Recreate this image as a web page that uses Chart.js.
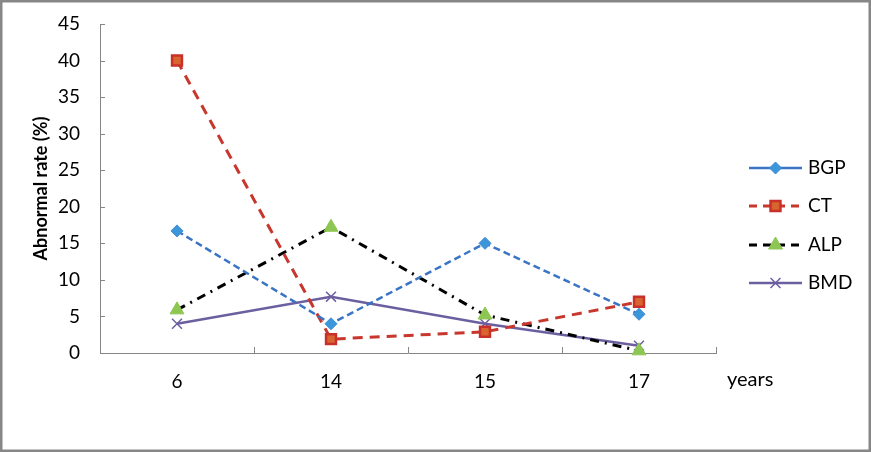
<!DOCTYPE html>
<html>
<head>
<meta charset="utf-8">
<script src="https://cdn.jsdelivr.net/npm/chart.js@4.4.1/dist/chart.umd.min.js"></script>
<style>
  html, body { margin: 0; padding: 0; background: #fff; }
  #wrap { width: 871px; height: 452px; position: relative; }
</style>
</head>
<body>
<div id="wrap"><canvas id="c" width="871" height="452"></canvas></div>
<script>
const categories = ['6', '14', '15', '17'];
const bgpValues = [16.7, 4.0, 15.0, 5.3];
const ctValues = [40.0, 1.9, 2.9, 7.0];
const alpValues = [5.9, 17.2, 5.2, 0.3];
const bmdValues = [4.0, 7.7, 4.0, 1.0];
const seriesNames = ['BGP', 'CT', 'ALP', 'BMD'];
const yTicks = [0, 5, 10, 15, 20, 25, 30, 35, 40, 45];

const FONT = 'Lato, "Liberation Sans", sans-serif';
const AXIS_COLOR = '#868686';
const legendDash = [[], [8, 6], [8, 6], []];

const datasets = [
  { label: seriesNames[0], data: bgpValues, borderColor: '#3A74C4', borderWidth: 2.5, borderDash: [7, 4],
    pointStyle: 'rectRot', pointRadius: 6, pointBackgroundColor: '#3C97DA', pointBorderColor: '#3C8AD4', pointBorderWidth: 1 },
  { label: seriesNames[1], data: ctValues, borderColor: '#C8372D', borderWidth: 3, borderDash: [10, 7],
    pointStyle: 'rect', pointRadius: 7, pointBackgroundColor: '#D8652F', pointBorderColor: '#C9302A', pointBorderWidth: 2.5 },
  { label: seriesNames[2], data: alpValues, borderColor: '#000000', borderWidth: 3, borderDash: [9, 6, 2, 6],
    pointStyle: 'triangle', pointRadius: 8, pointBackgroundColor: '#8DC652', pointBorderColor: '#8DC652', pointBorderWidth: 1 },
  { label: seriesNames[3], data: bmdValues, borderColor: '#6C5FA0', borderWidth: 2.5, borderDash: [],
    pointStyle: 'crossRot', pointRadius: 7, pointBackgroundColor: '#6C5FA0', pointBorderColor: '#6C5FA0', pointBorderWidth: 1.5 }
];
datasets.forEach(d => { d.fill = false; d.tension = 0; d.clip = false; });

const extras = {
  id: 'extras',
  afterDraw(chart) {
    const ctx = chart.ctx;
    const xs = chart.scales.x, ys = chart.scales.y;
    ctx.save();
    ctx.strokeStyle = AXIS_COLOR;
    ctx.lineWidth = 1;
    yTicks.forEach(v => {
      const py = Math.round(ys.getPixelForValue(v)) + 0.5;
      ctx.beginPath(); ctx.moveTo(ys.right, py); ctx.lineTo(ys.right + 5, py); ctx.stroke();
    });
    for (let i = 0; i <= categories.length; i++) {
      let px;
      if (i === 0) px = xs.left;
      else if (i === categories.length) px = xs.right;
      else px = (xs.getPixelForValue(i - 1) + xs.getPixelForValue(i)) / 2;
      px = Math.round(px) + 0.5;
      ctx.beginPath(); ctx.moveTo(px, xs.top); ctx.lineTo(px, xs.top - 6); ctx.stroke();
    }
    ctx.fillStyle = '#000';
    ctx.font = '20px ' + FONT;
    ctx.textAlign = 'left';
    ctx.textBaseline = 'middle';
    ctx.fillText('years', 727, 380);
    const rowY = [168, 206, 245, 283];
    chart.data.datasets.forEach((d, i) => {
      const y = rowY[i];
      ctx.save();
      ctx.strokeStyle = d.borderColor;
      ctx.lineWidth = d.borderWidth;
      ctx.setLineDash(legendDash[i]);
      ctx.beginPath(); ctx.moveTo(749, y); ctx.lineTo(802, y); ctx.stroke();
      ctx.setLineDash([]);
      ctx.fillStyle = d.pointBackgroundColor;
      ctx.strokeStyle = d.pointBorderColor;
      ctx.lineWidth = d.pointBorderWidth;
      Chart.helpers.drawPoint(ctx, { pointStyle: d.pointStyle, radius: d.pointRadius, rotation: 0, borderWidth: d.pointBorderWidth }, 775.5, y);
      ctx.restore();
      ctx.fillStyle = '#000';
      ctx.font = '19px ' + FONT;
      ctx.textAlign = 'left';
      ctx.textBaseline = 'middle';
      ctx.fillText(d.label, 808, y);
    });
    ctx.strokeStyle = '#878787';
    ctx.lineWidth = 2.5;
    ctx.strokeRect(1.25, 1.25, 868.5, 449.5);
    ctx.restore();
  }
};

new Chart(document.getElementById('c'), {
  type: 'line',
  data: { labels: categories, datasets: datasets },
  options: {
    responsive: false,
    animation: false,
    devicePixelRatio: 1,
    layout: { padding: { left: 0, right: 155, top: 24, bottom: 0 } },
    plugins: { legend: { display: false }, tooltip: { enabled: false } },
    scales: {
      x: {
        type: 'category',
        offset: true,
        grid: { display: false, drawTicks: false, offset: true },
        border: { display: true, color: AXIS_COLOR, width: 1 },
        ticks: { color: '#000', font: { family: FONT, size: 19 }, padding: 17, maxRotation: 0 },
        afterFit(scale) { scale.height = 99; scale.paddingLeft = 0; scale.paddingRight = 0; }
      },
      y: {
        min: 0, max: 45,
        afterBuildTicks(scale) { scale.ticks = yTicks.map(v => ({ value: v })); },
        grid: { display: false, drawTicks: false },
        border: { display: true, color: AXIS_COLOR, width: 1 },
        ticks: { color: '#000', font: { family: FONT, size: 19 }, padding: 20 },
        title: { display: true, text: 'Abnormal rate (%)', color: '#000', font: { family: FONT, size: 18, weight: 'bold' }, padding: { top: 30, bottom: 0 } },
        afterFit(scale) { scale.width = 100; scale.paddingTop = 0; scale.paddingBottom = 0; }
      }
    }
  },
  plugins: [extras]
});
</script>
</body>
</html>
